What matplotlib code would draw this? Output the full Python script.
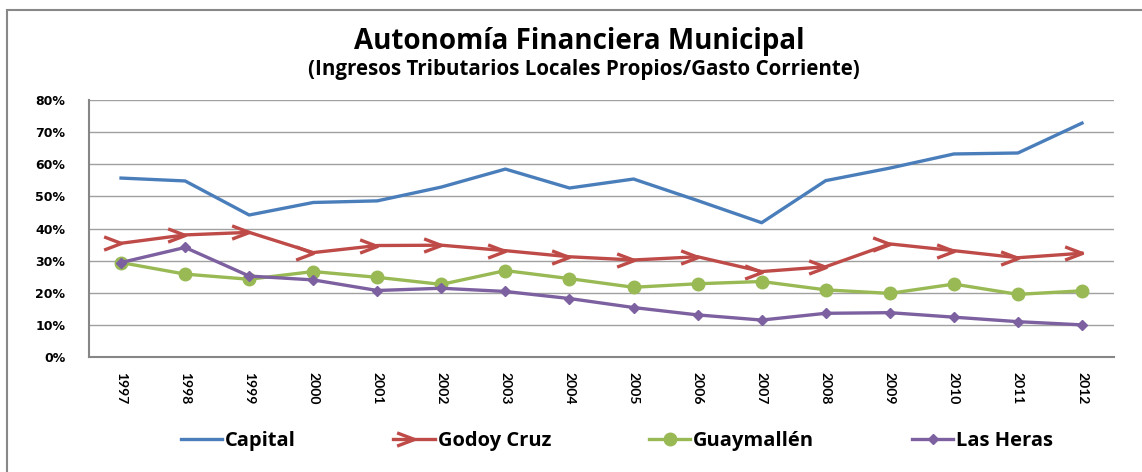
import numpy as np
import matplotlib
matplotlib.use("Agg")
import matplotlib.pyplot as plt
from matplotlib.path import Path
from matplotlib.patches import Rectangle
from matplotlib.legend_handler import HandlerLine2D

years = [str(y) for y in range(1997, 2013)]
capital = [55.7, 54.8, 44.2, 48.1, 48.6, 52.9, 58.5, 52.6, 55.4, 48.7, 41.8, 54.9, 58.8, 63.2, 63.5, 72.8]
godoy_cruz = [35.4, 38.0, 38.8, 32.5, 34.7, 34.8, 33.1, 31.2, 30.2, 31.2, 26.6, 28.1, 35.2, 33.1, 30.9, 32.3]
guaymallen = [29.4, 25.8, 24.2, 26.6, 24.8, 22.6, 26.9, 24.4, 21.7, 22.8, 23.5, 20.9, 19.8, 22.7, 19.5, 20.6]
las_heras = [29.4, 34.1, 25.2, 24.0, 20.7, 21.4, 20.4, 18.2, 15.4, 13.1, 11.5, 13.6, 13.8, 12.4, 11.0, 10.0]
yticks = [0, 10, 20, 30, 40, 50, 60, 70, 80]


class EndMarkerHandler(HandlerLine2D):
    # marker drawn at the right end of the legend line, like Excel
    def get_xdata(self, legend, xdescent, ydescent, width, height, fontsize):
        xdata, _ = super().get_xdata(legend, xdescent, ydescent, width, height, fontsize)
        return xdata, np.array([xdata[-1]])


W, H = 1142, 472
fig = plt.figure(figsize=(W / 100, H / 100), dpi=100)

# outer chart border (runs off the right and bottom edges)
fig.patches.append(Rectangle((7 / W, -0.1), 1.2, 1 - 10 / H + 0.1, transform=fig.transFigure,
                             fill=False, edgecolor="#888888", linewidth=1.5))

ax = fig.add_axes([89 / W, 1 - 357 / H, (1114 - 89) / W, (357 - 100) / H])

# open arrowhead marker, tip on the data point
arrow = Path([(-1, 0.38), (0, 0), (-1, -0.38)], [Path.MOVETO, Path.LINETO, Path.LINETO])

x = np.arange(len(years))
ax.plot(x, np.array(capital) / 100, color="#4a7ebb", lw=2.4, label="Capital")
ax.plot(x, np.array(godoy_cruz) / 100, color="#be4b48", lw=2.4, marker=arrow, markersize=25,
        markerfacecolor="none", markeredgecolor="#be4b48", markeredgewidth=2.4, label="Godoy Cruz")
ax.plot(x, np.array(guaymallen) / 100, color="#98b954", lw=2.4, marker="o", markersize=9,
        markeredgecolor="#98b954", label="Guaymallén")
ax.plot(x, np.array(las_heras) / 100, color="#7d60a0", lw=2.4, marker="D", markersize=5.5,
        markeredgecolor="#7d60a0", label="Las Heras")

ax.set_xlim(-0.5, len(years) - 0.5)
ax.set_ylim(0, 0.8)
ax.set_yticks([v / 100 for v in yticks])
ax.set_yticklabels([f"{v}%" for v in yticks], fontsize=9, fontweight="bold", family="DejaVu Sans")
ax.set_xticks(x)
ax.set_xticklabels(years, rotation=270, fontsize=10, fontweight="bold", family="Lato")
ax.tick_params(axis="y", length=0, pad=17)
ax.tick_params(axis="x", length=0, pad=11)
ax.grid(axis="y", color="#a0a0a0", lw=1)
ax.set_axisbelow(True)
for s in ["top", "right"]:
    ax.spines[s].set_visible(False)
for s in ["left", "bottom"]:
    ax.spines[s].set_color("#868686")
    ax.spines[s].set_linewidth(1.5)

fig.text(579 / W, 1 - 42 / H, "Autonomía Financiera Municipal", ha="center", va="center",
         fontsize=20, fontweight="bold", family="Open Sans")
fig.text(584 / W, 1 - 69 / H, "(Ingresos Tributarios Locales Propios/Gasto Corriente)", ha="center",
         va="center", fontsize=14.8, fontweight="bold", family="Open Sans")

fs = 14.5
leg = fig.legend(loc="center", bbox_to_anchor=(617 / W, 1 - 441 / H), ncol=4, frameon=False,
                 prop={"family": "Open Sans", "weight": "bold", "size": fs},
                 handlelength=30 / fs, handletextpad=0.15, columnspacing=70 / fs,
                 handler_map={plt.Line2D: EndMarkerHandler(numpoints=1)})

fig.savefig("out.png", dpi=100)
